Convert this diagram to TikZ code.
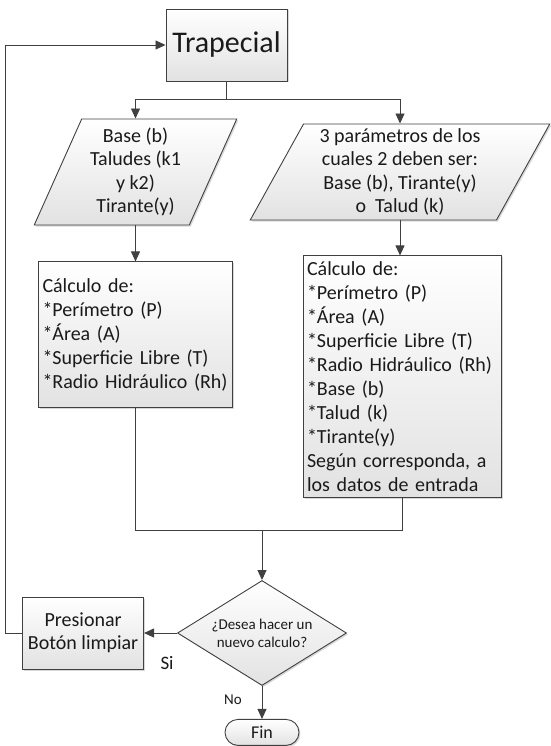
\documentclass[tikz,border=0pt]{standalone}
\usepackage{fontspec}
\setmainfont{Carlito}
\usepackage{xcolor}
\usepackage{tikz}
\usetikzlibrary{shapes,arrows.meta,positioning,shadows}

\definecolor{lineC}{HTML}{404040}
\definecolor{fillC}{HTML}{E2E2E2}
\definecolor{textC}{HTML}{1A1A1A}

\begin{document}
\begin{tikzpicture}[
    x=1pt, y=1pt,
    boxfill/.style={top color=white, bottom color=fillC, drop shadow={shadow xshift=1.5pt, shadow yshift=-1.5pt, fill=black!30, opacity=0.5}},
    box/.style={rectangle, draw=lineC, line width=0.9pt, boxfill, text=textC, inner sep=0pt, align=center},
    io/.style={trapezium, trapezium stretches=true, draw=lineC, line width=0.9pt, boxfill, text=textC, inner sep=0pt, align=center, font=\fontsize{20}{23.5}\selectfont},
    calc/.style={box, align=left, inner xsep=4pt, font=\fontsize{20}{24}\selectfont},
    decision/.style={diamond, aspect=1.6, draw=lineC, line width=0.9pt, boxfill, text=textC, inner sep=0pt, align=center, font=\fontsize{15}{18}\selectfont},
    term/.style={rounded rectangle, draw=lineC, line width=0.9pt, boxfill, text=textC, inner sep=0pt, font=\fontsize{18}{20}\selectfont},
    edge/.style={-{Triangle[length=10pt,width=9pt]}, draw=lineC, line width=0.9pt},
    wire/.style={draw=lineC, line width=0.9pt},
    lbl/.style={text=textC}
]
    \useasboundingbox (-226.5,45) rectangle (323.5,-701);

    \node[box, minimum width=121, minimum height=72, font=\fontsize{30}{32}\selectfont] (trap) at (0,0) {Trapecial};
    \node[io, trapezium left angle=65.6, trapezium right angle=114.4, minimum width=203, minimum height=106] (inL) at (-91,-127)
        {Base (b)\\Taludes (k1\\y k2)\\Tirante(y)};
    \node[io, trapezium left angle=63, trapezium right angle=117, minimum width=300, minimum height=96] (inR) at (173.5,-127)
        {3 parámetros de los\\cuales 2 deben ser:\\Base (b), Tirante(y)\\o\ \ Talud (k)};

    \node[calc, text width=186, minimum height=146, below=36pt of inL] (calcL)
        {Cálculo de:\\{}*Perímetro (P)\\{}*Área (A)\\{}*Superficie Libre (T)\\{}*Radio Hidráulico (Rh)};
    \node[calc, text width=190, minimum height=242, below=35pt of inR, xshift=2pt] (calcR)
        {Cálculo de:\\{}*Perímetro (P)\\{}*Área (A)\\{}*Superficie Libre (T)\\{}*Radio Hidráulico (Rh)\\{}*Base (b)\\{}*Talud (k)\\{}*Tirante(y)\\Según corresponda, a\\los datos de entrada};

    \node[decision, minimum width=169, minimum height=105] (dec) at (35.5,-588) {¿Desea hacer un\\nuevo calculo?};
    \node[box, minimum width=121, minimum height=72, left=33pt of dec, font=\fontsize{20}{23}\selectfont] (press) {Presionar\\Botón limpiar};
    \node[term, minimum width=74, minimum height=26, below=33pt of dec] (fin) {Fin};

    \node[lbl, font=\fontsize{19}{20}\selectfont] (si) at ([shift={(-10,-30)}]dec.west) {Si};
    \node[lbl, font=\fontsize{15}{16}\selectfont] (no) at ([shift={(-29,-14)}]dec.south) {No};

    % connectors
    \coordinate[below=18pt of trap.south] (split);
    \coordinate[above=50pt of dec.north] (merge);
    \coordinate[left=17pt of press.west] (back);

    \draw[wire] (trap.south) -- (split);
    \draw[edge] (split) -| (inL.north);
    \draw[edge] (split) -| (inR.north);
    \draw[edge] (inL.south) -- (calcL.north);
    \draw[edge] (inR.south) -- (inR.south |- calcR.north);
    \draw[wire] (calcL.south) |- (merge) -| (calcR.south);
    \draw[edge] (merge) -- (dec.north);
    \draw[edge] (dec.west) -- (press.east);
    \draw[edge] (dec.south) -- (fin.north);
    \draw[edge] (press.west) -- (back) |- (trap.west);
\end{tikzpicture}
\end{document}
